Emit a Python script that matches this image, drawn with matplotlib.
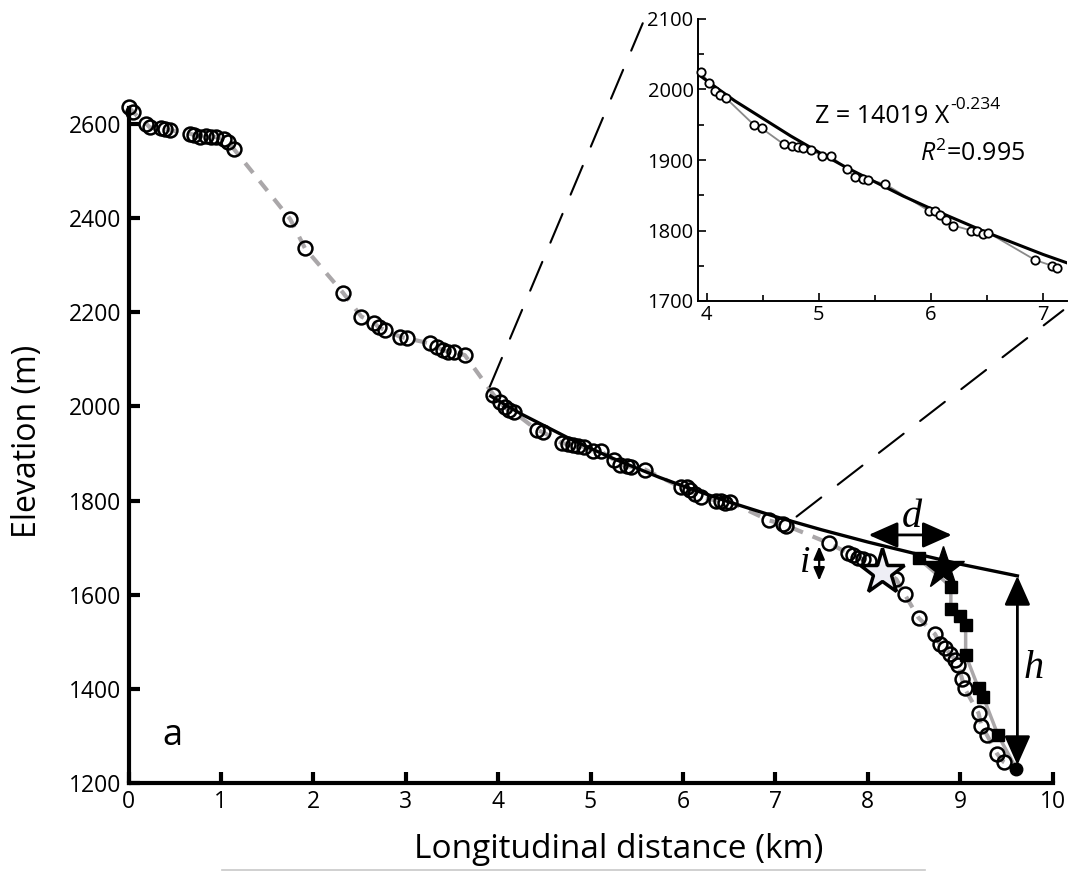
import matplotlib
matplotlib.use("Agg")
import matplotlib.pyplot as plt
from matplotlib.patches import ConnectionPatch
from matplotlib.lines import Line2D

plt.rcParams['font.family'] = ['Open Sans', 'DejaVu Sans']
plt.rcParams['mathtext.fontset'] = 'custom'
plt.rcParams['mathtext.rm'] = 'Open Sans'
plt.rcParams['mathtext.it'] = 'Open Sans:italic'

# profil - gornji dio (iznad zone prilagodbe)
upper_x = [0.0, 0.05, 0.19, 0.23, 0.35, 0.40, 0.45, 0.67, 0.71, 0.77, 0.84, 0.89, 0.95,
           1.03, 1.08, 1.14, 1.75, 1.91, 2.32, 2.52, 2.66, 2.71, 2.78, 2.94, 3.01, 3.26,
           3.34, 3.40, 3.46, 3.52, 3.64]
upper_z = [2637, 2625, 2601, 2593, 2591, 2589, 2587, 2579, 2577, 2573, 2575, 2573, 2572,
           2568, 2561, 2547, 2398, 2336, 2242, 2191, 2177, 2168, 2162, 2148, 2145, 2134,
           2126, 2120, 2116, 2116, 2109]

# tocke u zoni prilagodbe (i u umetku)
mid_x = [3.95, 4.02, 4.07, 4.12, 4.17, 4.42, 4.49, 4.69, 4.76, 4.81, 4.86, 4.93, 5.03,
         5.11, 5.25, 5.32, 5.39, 5.44, 5.59, 5.98, 6.04, 6.08, 6.13, 6.20, 6.36, 6.41,
         6.46, 6.51, 6.93, 7.08, 7.12]
mid_z = [2025, 2009, 1998, 1992, 1988, 1950, 1945, 1922, 1920, 1918, 1917, 1914, 1906,
         1905, 1887, 1876, 1873, 1872, 1866, 1828, 1828, 1822, 1815, 1807, 1800, 1800,
         1795, 1797, 1758, 1750, 1747]

# donji dio profila
lower_x = [7.585, 7.79, 7.84, 7.90, 7.95, 8.01, 8.31, 8.40, 8.55, 8.73, 8.78, 8.84, 8.89,
           8.95, 8.98, 9.02, 9.05, 9.20, 9.23, 9.29, 9.40, 9.47]
lower_z = [1709, 1688, 1684, 1679, 1675, 1672, 1633, 1601, 1551, 1516, 1495, 1486, 1475,
           1461, 1451, 1422, 1401, 1348, 1321, 1302, 1262, 1245]

outlet_x = 9.61
outlet_z = 1230

# kvadrati (drugi profil)
sq_x = [8.55, 8.90, 8.90, 9.00, 9.06, 9.06, 9.20, 9.25, 9.41]
sq_z = [1677, 1617, 1569, 1555, 1536, 1472, 1401, 1383, 1302]

# zvijezde
star_old = (8.15, 1649)
star_new = (8.81, 1656)

# krivulja Z = 14019 X^-0.234 (ocitano sa slike)
fit_x = [3.92, 4.1, 4.25, 4.5, 4.75, 5.0, 5.25, 5.5, 5.75, 6.0, 6.5, 7.0, 7.5, 8.0,
         8.5, 9.0, 9.62]
fit_z = [2022, 2001, 1984, 1959, 1934, 1911, 1889, 1869, 1849, 1831, 1797, 1766, 1738,
         1712, 1688, 1665, 1640]

prof_x = upper_x + mid_x + lower_x + [outlet_x]
prof_z = upper_z + mid_z + lower_z + [outlet_z]
circ_x = upper_x + mid_x + lower_x
circ_z = upper_z + mid_z + lower_z

fig = plt.figure(figsize=(10.75, 8.71), dpi=100)
ax = fig.add_axes([128.5/1075, 88/871, 924/1075, 682.5/871])

ax.plot(prof_x, prof_z, color='#aaa7a9', lw=3, dashes=(3, 2.5), zorder=1)
ax.plot(fit_x, fit_z, color='k', lw=2.4, zorder=2)
ax.plot(sq_x + [outlet_x], sq_z + [outlet_z], color='#aaa7a9', lw=2.5, zorder=2)
ax.plot(circ_x, circ_z, 'o', ms=10, mfc='none', mec='k', mew=1.8, zorder=3, clip_on=False)
ax.plot(sq_x, sq_z, 's', ms=8, color='k', zorder=4)
ax.plot([outlet_x], [outlet_z], 'o', ms=9, color='k', zorder=4, clip_on=False)
ax.plot([star_old[0]], [star_old[1]], '*', ms=34, mfc='#eeeef5', mec='k', mew=2.5, zorder=5)
ax.plot([star_new[0]], [star_new[1]], '*', ms=32, color='k', zorder=5)

big = dict(arrowstyle='<|-|>,head_length=0.9,head_width=0.4', color='k', lw=2,
           mutation_scale=20, shrinkA=0, shrinkB=0)
ax.annotate('', xy=(8.01, 1727), xytext=(8.91, 1727), arrowprops=big, zorder=6)
ax.annotate('', xy=(9.62, 1640), xytext=(9.62, 1238), arrowprops=big, zorder=6)
small = dict(arrowstyle='<|-|>,head_length=0.7,head_width=0.3', color='k', lw=1.6,
             mutation_scale=11, shrinkA=0, shrinkB=0)
ax.annotate('', xy=(7.475, 1703), xytext=(7.475, 1630), arrowprops=small, zorder=6)

serif = ['Liberation Serif', 'DejaVu Serif']
ax.text(8.48, 1744, 'd', family=serif, style='italic', fontsize=29, ha='center', va='baseline')
ax.text(7.32, 1649, 'i', family=serif, style='italic', fontsize=27, ha='center', va='baseline')
ax.text(9.80, 1423, 'h', family=serif, style='italic', fontsize=29, ha='center', va='baseline')
ax.text(0.37, 1281, 'a', fontsize=26, ha='left', va='baseline')

ax.set_xlim(0, 10)
ax.set_ylim(1200, 2650)
ax.set_xticks(range(0, 11))
ax.set_yticks(range(1200, 2601, 200))
for s in ['top', 'right']:
    ax.spines[s].set_visible(False)
for s in ['left', 'bottom']:
    ax.spines[s].set_linewidth(3)
ax.spines['left'].set_bounds(1200, 2635)
ax.tick_params(direction='in', length=8, width=3, labelsize=16.5, pad=5)

fig.text(619/1075, 1 - 858/871, 'Longitudinal distance (km)', fontsize=24,
         ha='center', va='baseline')
fig.text(28/1075, 1 - 441/871, 'Elevation (m)', fontsize=23, rotation=90,
         ha='center', va='center')
fig.add_artist(Line2D([222/1075, 925/1075], [1.5/871, 1.5/871], color='#c8c8c8', lw=1.2))

# umetak
ax2 = fig.add_axes([697.7/1075, 570/871, 369/1075, 282/871])
ax2.plot(mid_x, mid_z, color='#8a8a8a', lw=1.3, zorder=1)
ax2.plot(fit_x, fit_z, color='k', lw=2.2, zorder=2)
ax2.plot(mid_x, mid_z, 'o', ms=6, mfc='white', mec='k', mew=1.3, zorder=3, clip_on=False)
ax2.set_xlim(3.92, 7.21)
ax2.set_ylim(1700, 2100)
ax2.set_xticks([4, 5, 6, 7])
ax2.set_xticks([4.5, 5.5, 6.5], minor=True)
ax2.set_yticks(range(1700, 2101, 100))
ax2.set_yticks(range(1750, 2100, 100), minor=True)
for s in ['top', 'right']:
    ax2.spines[s].set_visible(False)
for s in ['left', 'bottom']:
    ax2.spines[s].set_linewidth(1.4)
ax2.tick_params(which='major', direction='in', length=6, width=1.2, labelsize=14.5, pad=3)
ax2.tick_params(which='minor', direction='in', length=4, width=1.2)
ax2.patch.set_alpha(0)

t = ax2.text(4.965, 1952.5, 'Z = 14019 X', fontsize=18, ha='left', va='baseline')
ax2.annotate('-0.234', xy=(1, 1), xycoords=t, xytext=(1, 5), textcoords='offset points',
             fontsize=12.5, ha='left', va='top')
ax2.text(5.90, 1898.6, r'$R^2$=0.995', fontsize=18, ha='left', va='baseline')

dash = (0, (15, 10))
con1 = ConnectionPatch(xyA=(3.91, 2042), coordsA=ax.transData, xyB=(3.43, 2094),
                       coordsB=ax2.transData, color='k', lw=1.5, linestyle=dash)
con2 = ConnectionPatch(xyA=(7.23, 1766), coordsA=ax.transData, xyB=(7.18, 1687),
                       coordsB=ax2.transData, color='k', lw=1.5, linestyle=dash)
fig.add_artist(con1)
fig.add_artist(con2)

fig.savefig('out.png', dpi=100)
